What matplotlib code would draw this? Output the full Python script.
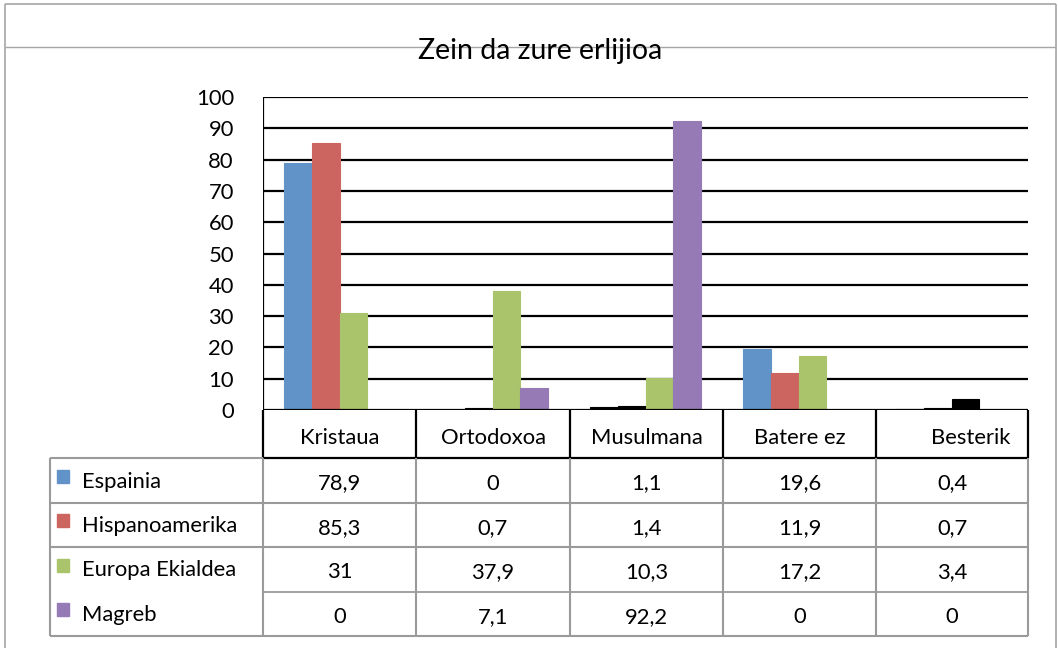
import matplotlib
matplotlib.use("Agg")
import matplotlib.pyplot as plt
import numpy as np
from matplotlib.lines import Line2D
from matplotlib.patches import Rectangle

plt.rcParams['font.family'] = ['Lato', 'DejaVu Sans']

title = "Zein da zure erlijioa"
categories = ["Kristaua", "Ortodoxoa", "Musulmana", "Batere ez", "Besterik"]
series_names = ["Espainia", "Hispanoamerika", "Europa Ekialdea", "Magreb"]
espainia = [78.9, 0, 1.1, 19.6, 0.4]
hispanoamerika = [85.3, 0.7, 1.4, 11.9, 0.7]
europa_ekialdea = [31, 37.9, 10.3, 17.2, 3.4]
magreb = [0, 7.1, 92.2, 0, 0]
series_values = [espainia, hispanoamerika, europa_ekialdea, magreb]
colors = ["#6193C9", "#CC6560", "#AAC46C", "#957AB5"]
yticks = list(range(0, 101, 10))

FS = 15.8
W, H = 1058, 648
fig = plt.figure(figsize=(W / 100, H / 100), dpi=100)

def fx(px):
    return px / W

def fy(py):
    return 1 - py / H

def hline(y, x0, x1, color, lw):
    fig.add_artist(Line2D([fx(x0), fx(x1)], [fy(y), fy(y)], color=color, lw=lw,
                          transform=fig.transFigure, solid_capstyle='butt'))

def vline(x, y0, y1, color, lw):
    fig.add_artist(Line2D([fx(x), fx(x)], [fy(y0), fy(y1)], color=color, lw=lw,
                          transform=fig.transFigure, solid_capstyle='butt'))

# outer frame
grey = "#A6A6A6"
hline(4, 5, 1056, grey, 1.2)
hline(47, 5, 1056, grey, 1.0)
vline(5, 4, 648, grey, 1.2)
vline(1056, 4, 648, grey, 1.2)

fig.text(fx(540), fy(51), title, ha='center', va='center', fontsize=20.5, color='black')

# plot area
ax_l, ax_r, ax_t, ax_b = 263, 1028, 97, 410
ax = fig.add_axes([fx(ax_l), fy(ax_b), fx(ax_r) - fx(ax_l), fy(ax_t) - fy(ax_b)])
ax.set_xlim(-0.5, len(categories) - 0.5)
ax.set_ylim(0, 100)
for s in ax.spines.values():
    s.set_visible(False)
ax.set_xticks([])
ax.set_yticks(yticks)
ax.set_yticklabels([str(t) for t in yticks], fontsize=FS)
ax.tick_params(axis='y', length=0, pad=21)
for t in yticks[1:]:
    ax.axhline(t, color='black', lw=1.6, zorder=1)
ax.axvline(-0.5, color='black', lw=1.6, zorder=3)
ax.axhline(0, color='black', lw=1.6, zorder=3)

bw = 0.182
x = np.arange(len(categories))
for i, vals in enumerate(series_values):
    offs = (i - 1.5) * bw
    for xi, v in zip(x, vals):
        if v <= 0:
            continue
        c = 'black' if v < 5 else colors[i]
        ax.bar(xi + offs, v, width=bw, color=c, edgecolor=c,
               lw=0.8, zorder=2)

# data table
col_edges = [263, 416, 570, 723, 876, 1028]
cat_top, cat_bot = 410, 458
row_edges = [458, 503, 547, 592, 636]
tab_left = 50

# category row (black lines)
for xe in col_edges:
    vline(xe, cat_top, cat_bot, 'black', 1.6)
hline(cat_bot, 263, 1028, 'black', 1.6)
cat_offsets = [0, 0, 0, 0, 19]
for j, cat in enumerate(categories):
    cx = (col_edges[j] + col_edges[j + 1]) / 2 + cat_offsets[j]
    fig.text(fx(cx), fy(438), cat, ha='center', va='center', fontsize=FS)

# grid of data cells (grey lines)
tgrey = "#9A9A9A"
for k, ye in enumerate(row_edges):
    if k == 0:
        hline(ye, tab_left, 263, tgrey, 1.5)
    elif k == 3:
        hline(ye, 263, 1028, tgrey, 1.3)
    else:
        hline(ye, tab_left, 1028, tgrey, 1.5)
vline(tab_left, row_edges[0], row_edges[-1], tgrey, 1.5)
for xe in col_edges:
    vline(xe, row_edges[0], row_edges[-1], tgrey, 1.5)

def fmt(v):
    return ("%g" % v).replace('.', ',')

for i, (name, vals) in enumerate(zip(series_names, series_values)):
    cy = (row_edges[i] + row_edges[i + 1]) / 2 + 1
    fig.add_artist(Rectangle((fx(57), fy(cy + 1)), fx(12), fy(0) - fy(13),
                             transform=fig.transFigure, color=colors[i]))
    fig.text(fx(82), fy(cy), name, ha='left', va='center', fontsize=FS)
    for j, v in enumerate(vals):
        cx = (col_edges[j] + col_edges[j + 1]) / 2
        fig.text(fx(cx), fy(cy + 2), fmt(v), ha='center', va='center', fontsize=FS)

fig.savefig("out.png", dpi=100)
